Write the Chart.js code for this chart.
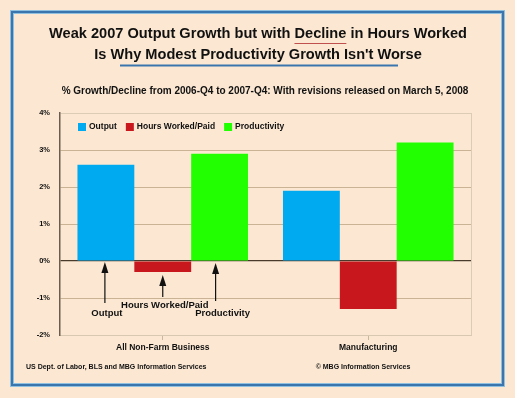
<!DOCTYPE html>
<html>
<head>
<meta charset="utf-8">
<script src="https://cdn.jsdelivr.net/npm/chart.js@4.4.1/dist/chart.umd.min.js"></script>
<style>
  html, body { margin: 0; padding: 0; background: #fce8d2; }
  #wrap { width: 515px; height: 398px; position: relative; }
</style>
</head>
<body>
<div id="wrap"><canvas id="myChart" width="515" height="398"></canvas></div>
<script>
// chart data
var categories = ['All Non-Farm Business', 'Manufacturing']
var seriesNames = ['Output', 'Hours Worked/Paid', 'Productivity']
var outputGrowth = [2.6, 1.9]
var hoursGrowth = [-0.3, -1.3]
var productivityGrowth = [2.9, 3.2]
var yTicks = ['-2%', '-1%', '0%', '1%', '2%', '3%', '4%']
var colors = ['#00aaf0', '#c8181e', '#22ff00']

var FONT = '"Liberation Sans", Arial, sans-serif'

// frame, titles, legend, arrows and footer
var decorPlugin = {
  id: 'decor',
  beforeDraw (chart) {
    var ctx = chart.ctx
    ctx.save()
    ctx.fillStyle = '#fce8d2'
    ctx.fillRect(0, 0, chart.width, chart.height)
    ctx.strokeStyle = '#8fc0e0'
    ctx.lineWidth = 4
    ctx.strokeRect(12, 12, 491, 373)
    ctx.strokeStyle = '#3a76ad'
    ctx.lineWidth = 2
    ctx.strokeRect(12, 12, 491, 373)
    ctx.restore()
  },
  afterDraw (chart) {
    var ctx = chart.ctx
    var area = chart.chartArea
    var y = chart.scales.y
    ctx.save()

    // titles
    ctx.fillStyle = '#111'
    ctx.textAlign = 'center'
    ctx.textBaseline = 'middle'
    ctx.font = 'bold 14.6px ' + FONT
    var line1 = 'Weak 2007 Output Growth but with Decline in Hours Worked'
    ctx.fillText(line1, 258, 34)
    ctx.fillText("Is Why Modest Productivity Growth Isn't Worse", 258, 55)
    // underline "Decline"
    var w1 = ctx.measureText(line1).width
    var pre = ctx.measureText('Weak 2007 Output Growth but with ').width
    var dw = ctx.measureText('Decline').width
    var x0 = 258 - w1 / 2 + pre
    ctx.strokeStyle = '#c0504d'
    ctx.lineWidth = 1
    ctx.beginPath()
    ctx.moveTo(x0, 43.5)
    ctx.lineTo(x0 + dw, 43.5)
    ctx.stroke()
    ctx.strokeStyle = '#3a76ad'
    ctx.lineWidth = 2
    ctx.beginPath()
    ctx.moveTo(120, 65.5)
    ctx.lineTo(398, 65.5)
    ctx.stroke()

    ctx.font = 'bold 10px ' + FONT
    ctx.fillText('% Growth/Decline from 2006-Q4 to 2007-Q4: With revisions released on March 5, 2008', 265, 91)

    // legend inside plot
    ctx.textAlign = 'left'
    ctx.font = 'bold 8.5px ' + FONT
    var lx = area.left + 18
    var ly = 127
    for (var i = 0; i < seriesNames.length; i++) {
      ctx.fillStyle = colors[i]
      ctx.fillRect(lx, ly - 4, 8, 8)
      ctx.fillStyle = '#111'
      ctx.fillText(seriesNames[i], lx + 11, ly)
      lx += 11 + ctx.measureText(seriesNames[i]).width + 9
    }

    // arrows under the first category
    var zero = y.getPixelForValue(0)
    var arrows = [
      {ds: 0, tip: zero + 1, end: zero + 42, label: 'Output', ly: zero + 52, dx: -1},
      {ds: 1, tip: y.getPixelForValue(hoursGrowth[0]) + 3, end: zero + 36, label: 'Hours Worked/Paid', ly: zero + 44, dx: 0},
      {ds: 2, tip: zero + 2, end: zero + 40, label: 'Productivity', ly: zero + 52, dx: -4}
    ]
    ctx.strokeStyle = '#111'
    ctx.fillStyle = '#111'
    ctx.lineWidth = 1.2
    ctx.textAlign = 'center'
    ctx.font = 'bold 9.5px ' + FONT
    arrows.forEach(function (a) {
      var bar = chart.getDatasetMeta(a.ds).data[0]
      var ax = bar.x + a.dx
      ctx.beginPath()
      ctx.moveTo(ax, a.tip + 8)
      ctx.lineTo(ax, a.end)
      ctx.stroke()
      ctx.beginPath()
      ctx.moveTo(ax, a.tip)
      ctx.lineTo(ax - 3.5, a.tip + 11)
      ctx.lineTo(ax + 3.5, a.tip + 11)
      ctx.closePath()
      ctx.fill()
      var tx = a.ds === 2 ? ax + 7 : ax + 2
      ctx.fillText(a.label, tx, a.ly)
    })

    // footer
    ctx.font = 'bold 7px ' + FONT
    ctx.textAlign = 'left'
    ctx.fillText('US Dept. of Labor, BLS and MBG Information Services', 26, 367)
    ctx.textAlign = 'center'
    ctx.fillText('\u00a9 MBG Information Services', 363, 367)
    ctx.restore()
  }
}

var ctx = document.getElementById('myChart').getContext('2d')
var chart = new Chart(ctx, {
  type: 'bar',
  data: {
    labels: categories,
    datasets: [
      {label: seriesNames[0], data: outputGrowth, backgroundColor: colors[0]},
      {label: seriesNames[1], data: hoursGrowth, backgroundColor: colors[1]},
      {label: seriesNames[2], data: productivityGrowth, backgroundColor: colors[2]}
    ]
  },
  options: {
    responsive: false,
    animation: false,
    devicePixelRatio: 1,
    layout: {padding: {left: 20, right: 44, top: 113, bottom: 33}},
    datasets: {bar: {categoryPercentage: 0.83, barPercentage: 1.0, borderWidth: 0}},
    plugins: {
      legend: {display: false},
      tooltip: {enabled: false}
    },
    scales: {
      x: {
        afterFit (scale) { scale.height = 30 },
        grid: {display: true, offset: false, drawOnChartArea: false, drawTicks: true, tickLength: 5, color: '#c9b79f'},
        border: {display: true, color: '#d8c8b2'},
        ticks: {color: '#111', font: {family: FONT, size: 8.5, weight: 'bold'}, padding: 3}
      },
      y: {
        min: -2,
        max: 4,
        afterFit (scale) { scale.width = 40 },
        ticks: {
          stepSize: 1,
          color: '#111',
          padding: 10,
          font: {family: FONT, size: 7.5, weight: 'bold'},
          callback: function (v) { return yTicks[v + 2] }
        },
        grid: {
          drawTicks: false,
          lineWidth: function (c) { return c.tick && c.tick.value === 0 ? 1.2 : 1 },
          color: function (c) {
            if (c.tick && c.tick.value === 0) return '#4a3a2c'
            if (c.tick && c.tick.value === 4) return '#dccbb5'
            return '#c9b394'
          }
        },
        border: {display: true, color: '#6b5c4c', width: 1.5}
      }
    }
  },
  plugins: [decorPlugin, {
    id: 'rightBorder',
    beforeDatasetsDraw (chart) {
      var a = chart.chartArea
      chart.ctx.save()
      chart.ctx.strokeStyle = '#dccbb5'
      chart.ctx.beginPath()
      chart.ctx.moveTo(a.right + 0.5, a.top)
      chart.ctx.lineTo(a.right + 0.5, a.bottom)
      chart.ctx.stroke()
      chart.ctx.restore()
    }
  }]
})
</script>
</body>
</html>
